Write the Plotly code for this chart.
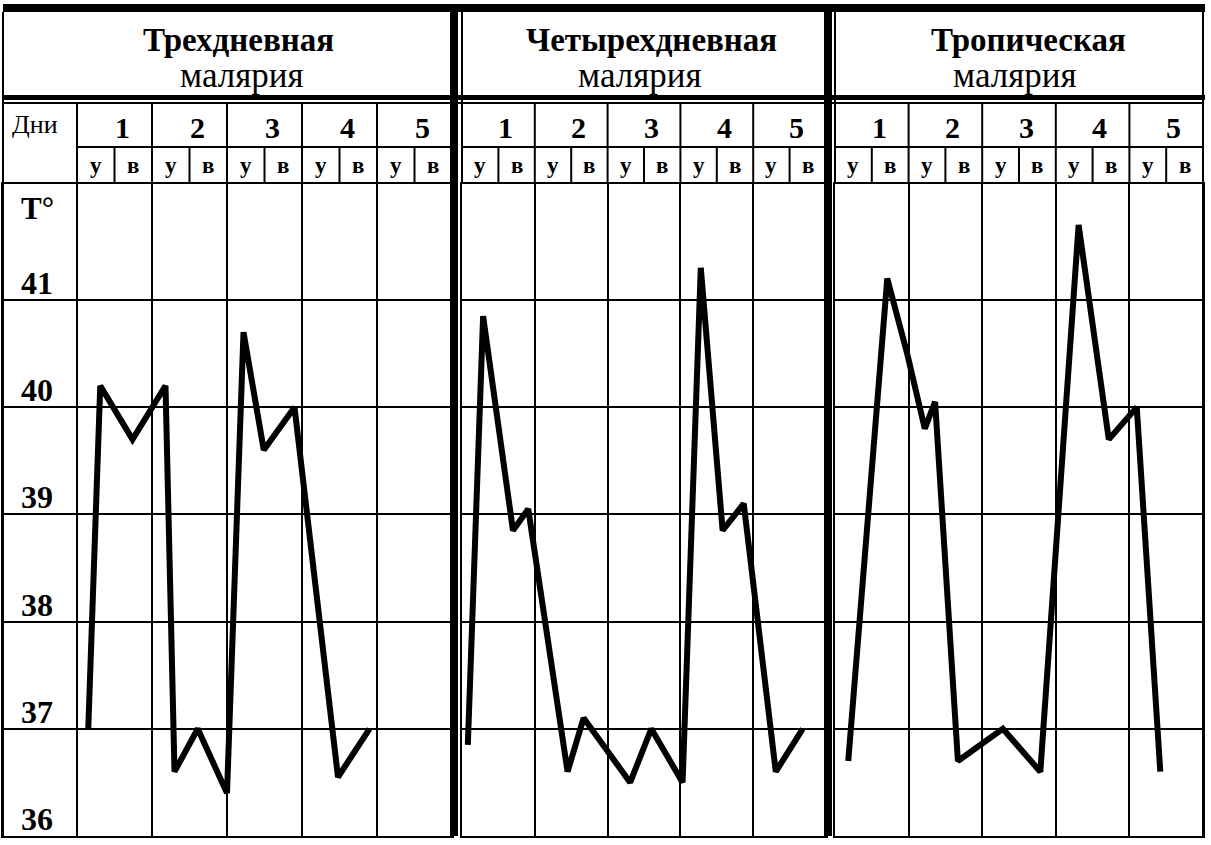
import plotly.graph_objects as go

W, H = 1211, 845

# ---------------- data ----------------
day_labels = ["1", "2", "3", "4", "5"]
half_labels = ["у", "в"]          # утро / вечер
temp_ticks = [36, 37, 38, 39, 40, 41]
titles = ["Трехдневная", "Четырехдневная", "Тропическая"]
subtitle = "малярия"

# time (days from the start of day 1) and temperature (°C)
tertian_t = [0.15, 0.31, 0.74, 1.18, 1.30, 1.61, 2.00, 2.22, 2.49, 2.90, 3.48, 3.90]
tertian_T = [37.0, 40.2, 39.7, 40.2, 36.6, 37.0, 36.4, 40.7, 39.6, 40.0, 36.55, 37.0]

quartan_t = [0.08, 0.29, 0.70, 0.91, 1.45, 1.67, 2.31, 2.60, 3.03, 3.28, 3.58, 3.87, 4.31, 4.68]
quartan_T = [36.85, 40.85, 38.85, 39.05, 36.6, 37.1, 36.5, 37.0, 36.5, 41.3, 38.85, 39.1, 36.6, 37.0]

tropical_t = [0.18, 0.71, 0.98, 1.22, 1.36, 1.67, 2.28, 2.79, 3.31, 3.72, 4.10, 4.42]
tropical_T = [36.7, 41.2, 40.5, 39.8, 40.05, 36.7, 37.0, 36.6, 41.7, 39.7, 40.0, 36.6]

series = [(tertian_t, tertian_T), (quartan_t, quartan_T), (tropical_t, tropical_T)]

# ---------------- layout helpers ----------------
def px(x):
    return x / W

def py(y):
    return 1 - y / H

FONT = "Liberation Serif"
PLOT_TOP, PLOT_BOT = 184, 836
PX_PER_DEG = 107.2
Y_RANGE = [36, 36 + (PLOT_BOT - PLOT_TOP) / PX_PER_DEG]

panels = [
    dict(x0=3, x1=452, rng=[-74 / 75, 5]),
    dict(x0=462, x1=826, rng=[0, 5]),
    dict(x0=835, x1=1203, rng=[0, 5]),
]

fig = go.Figure()
layout = dict(
    width=W, height=H, autosize=False,
    margin=dict(l=0, r=0, t=0, b=0),
    paper_bgcolor="white", plot_bgcolor="white",
    showlegend=False,
)

for i, (p, (t, T)) in enumerate(zip(panels, series)):
    sx = "" if i == 0 else str(i + 1)
    fig.add_trace(go.Scatter(
        x=t, y=T, mode="lines",
        line=dict(color="black", width=6),
        xaxis="x" + sx, yaxis="y" + sx, hoverinfo="skip",
    ))
    layout["xaxis" + sx] = dict(
        domain=[px(p["x0"]), px(p["x1"])], range=p["rng"],
        anchor="y" + sx, tickmode="linear", tick0=0, dtick=1,
        showgrid=True, gridcolor="black", gridwidth=2,
        showticklabels=False, ticks="", zeroline=False,
        showline=True, linecolor="black", linewidth=2, mirror=True,
        fixedrange=True,
    )
    layout["yaxis" + sx] = dict(
        domain=[py(PLOT_BOT), py(PLOT_TOP)], range=Y_RANGE,
        anchor="x" + sx, tickmode="array", tickvals=temp_ticks,
        showgrid=True, gridcolor="black", gridwidth=2,
        showticklabels=False, ticks="", zeroline=False,
        showline=True, linecolor="black", linewidth=2, mirror=True,
        fixedrange=True,
    )

shapes = []
annotations = []

def rect(x0, y0, x1, y1):
    shapes.append(dict(type="rect", xref="paper", yref="paper",
                       x0=px(x0), x1=px(x1), y0=py(y0), y1=py(y1),
                       fillcolor="black", line=dict(width=0), layer="above"))

def hline(x0, x1, y, w=2, xref="paper"):
    xx0, xx1 = (px(x0), px(x1)) if xref == "paper" else (x0, x1)
    shapes.append(dict(type="line", xref=xref, yref="paper",
                       x0=xx0, x1=xx1, y0=py(y), y1=py(y),
                       line=dict(color="black", width=w), layer="above"))

def vline(x, y0, y1, w=2, xref="paper"):
    xx = px(x) if xref == "paper" else x
    shapes.append(dict(type="line", xref=xref, yref="paper",
                       x0=xx, x1=xx, y0=py(y0), y1=py(y1),
                       line=dict(color="black", width=w), layer="above"))

# outer frame of the header
rect(3, 4, 1205, 12)              # top thick rule
rect(3, 95, 1205, 100)            # thick rule under titles
hline(3, 1203, 103)               # thin rule under titles
vline(3, 12, 836)                 # left border
vline(1203, 12, 836)              # right border
rect(450, 12, 458, 836)           # separator 1|2
rect(824, 12, 832, 836)           # separator 2|3
vline(462, 12, 184)
vline(835, 12, 184)

# day / half-day header grid (in axis units)
for i in range(3):
    sx = "x" if i == 0 else "x" + str(i + 1)
    hline(0, 5, 147, xref=sx)
    for d in range(len(day_labels)):
        vline(d, 103, 184, xref=sx)
        vline(d + 0.5, 147, 184, xref=sx)
        annotations.append(dict(
            xref=sx, yref="paper", x=d + 0.6, y=py(128),
            text="<b>" + day_labels[d] + "</b>", showarrow=False,
            font=dict(family=FONT, size=30, color="black"),
            xanchor="center", yanchor="middle"))
        for h, lab in enumerate(half_labels):
            annotations.append(dict(
                xref=sx, yref="paper", x=d + 0.25 + 0.5 * h, y=py(165),
                text="<b>" + lab + "</b>", showarrow=False,
                font=dict(family=FONT, size=23, color="black"),
                xanchor="center", yanchor="middle"))

# panel titles
title_cx = [238, 651, 1028]
sub_cx = [242, 640, 1015]
for i in range(3):
    annotations.append(dict(
        xref="paper", yref="paper", x=px(title_cx[i]), y=py(40),
        text="<b>" + titles[i] + "</b>", showarrow=False,
        font=dict(family=FONT, size=33, color="black"),
        xanchor="center", yanchor="middle"))
    annotations.append(dict(
        xref="paper", yref="paper", x=px(sub_cx[i]), y=py(76),
        text=subtitle, showarrow=False,
        font=dict(family=FONT, size=35, color="black"),
        xanchor="center", yanchor="middle"))

# left label column
annotations.append(dict(
    xref="paper", yref="paper", x=px(35), y=py(125), text="Дни",
    showarrow=False, font=dict(family=FONT, size=26, color="black"),
    xanchor="center", yanchor="middle"))
annotations.append(dict(
    xref="paper", yref="paper", x=px(37), y=py(208), text="<b>T°</b>",
    showarrow=False, font=dict(family=FONT, size=31, color="black"),
    xanchor="center", yanchor="middle"))
for v in temp_ticks:
    annotations.append(dict(
        xref="paper", yref="y", x=px(37), y=v, yshift=17,
        text="<b>" + str(v) + "</b>", showarrow=False,
        font=dict(family=FONT, size=32, color="black"),
        xanchor="center", yanchor="middle"))

layout["shapes"] = shapes
layout["annotations"] = annotations
fig.update_layout(**layout)
fig.write_html("out.html")
